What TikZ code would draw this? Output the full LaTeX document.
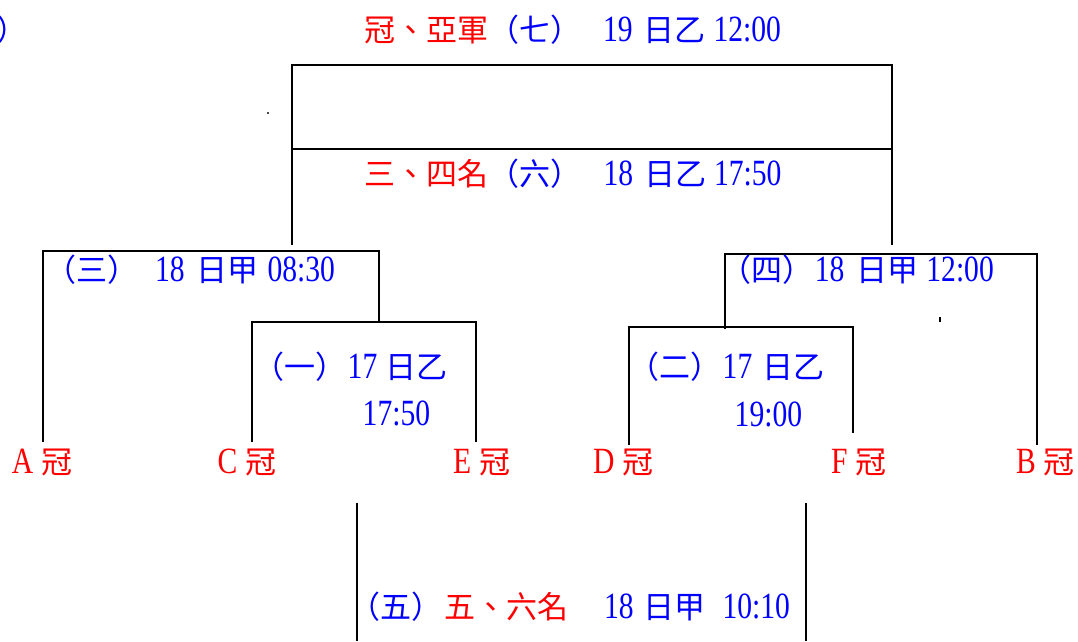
\documentclass[tikz,border=0pt]{standalone}
\usepackage{fontspec}
\newfontfamily\zhfont{Noto Sans CJK TC}
\newfontfamily\enfont[FakeStretch=0.8]{Liberation Serif}
\newcommand{\myzh}[1]{{\zhfont\fontsize{31}{36}\selectfont #1}}
\newcommand{\myen}[1]{{\enfont\fontsize{37}{40}\selectfont #1}}
\definecolor{tred}{RGB}{255,0,0}
\definecolor{tblue}{RGB}{0,0,255}
\begin{document}
\begin{tikzpicture}[x=1pt,y=-1pt,
  lbl/.style={inner sep=0pt,outer sep=0pt,anchor=base west},
  ln/.style={line width=2pt,line join=miter,black}]
\useasboundingbox (0,0) rectangle (1078,641);
% ---------- named corner coordinates ----------
\coordinate (ttl) at (291.7,65.3);
\coordinate (ttr) at (891.7,65.3);
\coordinate (tml) at (291.7,149);
\coordinate (tmr) at (891.7,149);
\coordinate (tbl) at (291.7,245);
\coordinate (tbr) at (891.7,245);
% left bracket (三)
\coordinate (l3a) at (43.3,441.7);
\coordinate (l3b) at (43.3,250.7);
\coordinate (l3c) at (379.3,250.7);
\coordinate (l3d) at (379.3,322.3);
% inner (一)
\coordinate (l1a) at (251.7,441.7);
\coordinate (l1b) at (251.7,322.3);
\coordinate (l1c) at (475.7,322.3);
\coordinate (l1d) at (475.7,441.7);
% right bracket (四)
\coordinate (r4a) at (725.3,329.3);
\coordinate (r4b) at (725.3,253.5);
\coordinate (r4c) at (1036.7,253.5);
\coordinate (r4d) at (1036.7,445);
% inner (二)
\coordinate (r2a) at (629.3,445);
\coordinate (r2b) at (629.3,326.7);
\coordinate (r2c) at (853.3,326.7);
\coordinate (r2d) at (853.3,433.3);
% bottom (五)
\coordinate (b5a) at (357.3,502.7);
\coordinate (b5b) at (357.3,641);
\coordinate (b5c) at (805.7,502.7);
\coordinate (b5d) at (805.7,641);
% ---------- lines ----------
\draw[ln] (tbl) -- (ttl) -- (ttr) -- (tbr);
\draw[ln] (tml) -- (tmr);
\draw[ln] (l3a) -- (l3b) -- (l3c) -- (l3d);
\draw[ln] (l1a) -- (l1b) -- (l1c) -- (l1d);
\draw[ln] (r4a) -- (r4b) -- (r4c) -- (r4d);
\draw[ln] (r2a) -- (r2b) -- (r2c) -- (r2d);
\draw[ln] (b5a) -- (b5b);
\draw[ln] (b5c) -- (b5d);
% stray marks
\fill[black!70] (267.3,112.3) rectangle (268.7,113.7);
\fill[black] (939,317.3) rectangle (941,322);
% ---------- texts ----------
\node[lbl] (stray) at (-3,41.7) {\textcolor{tblue}{\myzh{）}}};
\node[lbl] (final) at (364,41.7) {\textcolor{tred}{\myzh{冠、亞軍}}\textcolor{tblue}{\myzh{（七）}\hspace{22pt}\myen{19}\hspace{11pt}\myzh{日乙}\hspace{8pt}\myen{12:00}}};
\node[lbl] (third) at (364,185) {\textcolor{tred}{\myzh{三、四名}}\textcolor{tblue}{\myzh{（六）}\hspace{22.5pt}\myen{18}\hspace{11pt}\myzh{日乙}\hspace{8pt}\myen{17:50}}};
\node[lbl,text=tblue] (g3) at (45,281.7) {\myzh{（三）}\hspace{17pt}\myen{18}\hspace{12pt}\myzh{日甲}\hspace{9pt}\myen{08:30}};
\node[lbl,text=tblue] (g1) at (253.7,378) {\myzh{（一）}\hspace{1pt}\myen{17}\hspace{8pt}\myzh{日乙}};
\node[lbl,text=tblue] (g1t) at (362.7,425.7) {\myen{17:50}};
\node[lbl,text=tblue] (g4) at (720.3,281.7) {\myzh{（四）}\hspace{1.5pt}\myen{18}\hspace{12pt}\myzh{日甲}\hspace{8pt}\myen{12:00}};
\node[lbl,text=tblue] (g2) at (628.7,378) {\myzh{（二）}\hspace{1pt}\myen{17}\hspace{10.5pt}\myzh{日乙}};
\node[lbl,text=tblue] (g2t) at (734.7,426) {\myen{19:00}};
\node[lbl] (g5) at (349.7,618) {\textcolor{tblue}{\myzh{（五）}}\hspace{1.3pt}\textcolor{tred}{\myzh{五、六名}}\hspace{36pt}\textcolor{tblue}{\myen{18}\hspace{10pt}\myzh{日甲}\hspace{17pt}\myen{10:10}}};
% teams
\node[lbl,text=tred] (tA) at (12,473) {\myen{A}\hspace{8pt}\myzh{冠}};
\node[lbl,text=tred] (tC) at (217.7,473) {\myen{C}\hspace{8pt}\myzh{冠}};
\node[lbl,text=tred] (tE) at (453,473) {\myen{E}\hspace{8pt}\myzh{冠}};
\node[lbl,text=tred] (tD) at (593,473) {\myen{D}\hspace{8pt}\myzh{冠}};
\node[lbl,text=tred] (tF) at (831,473) {\myen{F}\hspace{8pt}\myzh{冠}};
\node[lbl,text=tred] (tB) at (1016,473) {\myen{B}\hspace{8pt}\myzh{冠}};
\end{tikzpicture}
\end{document}
